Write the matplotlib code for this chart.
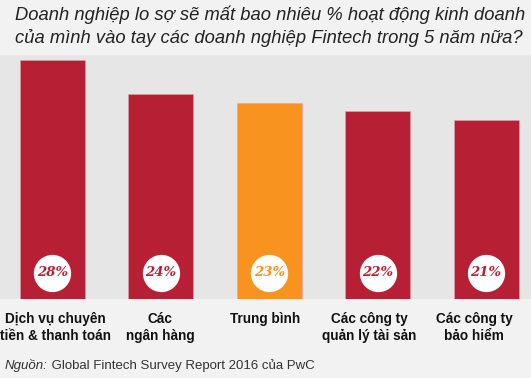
import matplotlib
matplotlib.use("Agg")
import matplotlib.pyplot as plt

categories = ["Dịch vụ chuyên\ntiền & thanh toán", "Các\nngân hàng", "Trung bình",
              "Các công ty\nquản lý tài sản", "Các công ty\nbảo hiểm"]
values = [28, 24, 23, 22, 21]
colors = ["#B71F34", "#B71F34", "#F7931E", "#B71F34", "#B71F34"]

title = "Doanh nghiệp lo sợ sẽ mất bao nhiêu % hoạt động kinh doanh\ncủa mình vào tay các doanh nghiệp Fintech trong 5 năm nữa?"

plt.rcParams["font.family"] = ["Liberation Sans", "DejaVu Sans"]

fig = plt.figure(figsize=(5.31, 3.78), dpi=100)
fig.patch.set_facecolor("#F2F2F2")
ax = fig.add_axes([0, 79 / 378, 1, 244 / 378])
ax.set_facecolor("#E6E6E6")

x = list(range(len(values)))
ax.bar(x, values, width=0.6, color=colors, edgecolor="#E8A0AA", linewidth=0.4, zorder=2)
ax.scatter(x, [3.05] * len(x), s=720, color="white", zorder=3, linewidths=0)
for i, v in enumerate(values):
    ax.text(i, 3.05, f"{v}%", ha="center", va="center", fontsize=9.5,
            fontweight="bold", fontstyle="italic", family="DejaVu Serif",
            color=colors[i], zorder=4)
    # category labels sit slightly left of the bar centres in the original
    ax.text(i * 0.965 + 0.03, -0.055, categories[i], transform=ax.get_xaxis_transform(),
            ha="center", va="top", fontsize=9.8, fontweight="bold",
            color="#111111", linespacing=1.25, multialignment="center")

ax.set_xlim(-0.484, 4.415)
ax.set_ylim(0, 28.57)
ax.set_xticks([])
ax.set_yticks([])
for s in ax.spines.values():
    s.set_visible(False)

fig.text(15 / 531, 1 - 5 / 378, title, ha="left", va="top", fontsize=13.25,
         fontstyle="italic", color="#222222", linespacing=1.4)

t1 = fig.text(5 / 531, 12 / 378, "Nguồn:", ha="left", va="center", fontsize=9.5,
              fontstyle="italic", color="#333333")
ax.annotate(" Global Fintech Survey Report 2016 của PwC", xy=(1, 0.5), xycoords=t1,
            ha="left", va="center", fontsize=9.5, color="#333333",
            annotation_clip=False)

fig.savefig("out.png", dpi=100, facecolor=fig.get_facecolor())
